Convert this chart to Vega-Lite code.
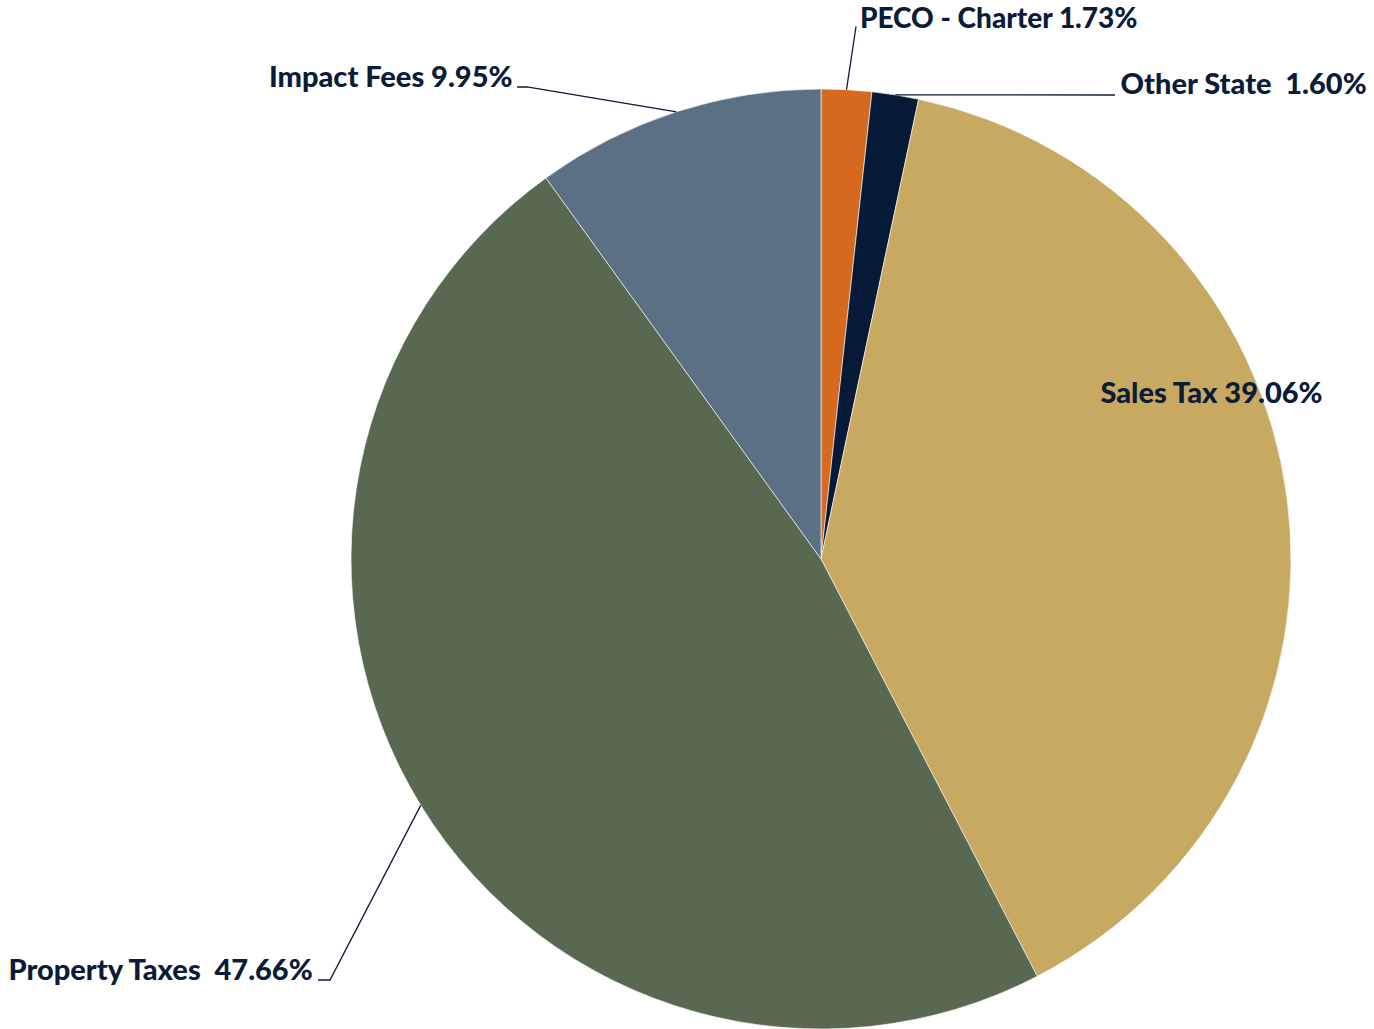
{
  "$schema": "https://vega.github.io/schema/vega-lite/v6.json",
  "width": 940,
  "height": 940,
  "autosize": {"type": "none"},
  "padding": {"left": 351, "top": 89, "right": 83, "bottom": 0},
  "background": "#ffffff",
  "config": {"view": {"stroke": null}},
  "datasets": {
    "slices": [
      {"idx": 1, "category": "PECO - Charter", "pct": 1.73, "label": "PECO - Charter 1.73%"},
      {"idx": 2, "category": "Other State", "pct": 1.60, "label": "Other State\u00a0 1.60%"},
      {"idx": 3, "category": "Sales Tax", "pct": 39.06, "label": "Sales Tax 39.06%"},
      {"idx": 4, "category": "Property Taxes", "pct": 47.66, "label": "Property Taxes\u00a0 47.66%"},
      {"idx": 5, "category": "Impact Fees", "pct": 9.95, "label": "Impact Fees 9.95%"}
    ],
    "leaders": [
      {"lead": "PECO - Charter", "seq": 1, "ux": 0.0543, "uy": 0.9985},
      {"lead": "PECO - Charter", "seq": 2, "ux": 0.0745, "uy": 1.1330},
      {"lead": "Other State", "seq": 1, "ux": 0.1583, "uy": 0.9874},
      {"lead": "Other State", "seq": 2, "ux": 0.6255, "uy": 0.9872},
      {"lead": "Impact Fees", "seq": 1, "ux": -0.3076, "uy": 0.9515},
      {"lead": "Impact Fees", "seq": 2, "ux": -0.6255, "uy": 1.0043},
      {"lead": "Impact Fees", "seq": 3, "ux": -0.6468, "uy": 1.0043},
      {"lead": "Property Taxes", "seq": 1, "ux": -0.8517, "uy": -0.5242},
      {"lead": "Property Taxes", "seq": 2, "ux": -1.0447, "uy": -0.8957},
      {"lead": "Property Taxes", "seq": 3, "ux": -1.0702, "uy": -0.8957}
    ]
  },
  "layer": [
    {
      "data": {"name": "slices"},
      "mark": {"type": "arc", "stroke": "#ffffff", "strokeWidth": 0.6},
      "encoding": {
        "theta": {"field": "pct", "type": "quantitative", "stack": true},
        "order": {"field": "idx", "type": "quantitative"},
        "color": {
          "field": "category",
          "type": "nominal",
          "legend": null,
          "scale": {
            "domain": ["PECO - Charter", "Other State", "Sales Tax", "Property Taxes", "Impact Fees"],
            "range": ["#D4691F", "#061A38", "#C8A961", "#596851", "#5B7183"]
          }
        }
      }
    },
    {
      "data": {"name": "leaders"},
      "mark": {"type": "line", "color": "#0B1B38", "strokeWidth": 1.3},
      "encoding": {
        "x": {"field": "ux", "type": "quantitative", "scale": {"domain": [-1, 1], "nice": false, "zero": false}, "axis": null},
        "y": {"field": "uy", "type": "quantitative", "scale": {"domain": [-1, 1], "nice": false, "zero": false}, "axis": null},
        "detail": {"field": "lead", "type": "nominal"},
        "order": {"field": "seq", "type": "quantitative"}
      }
    },
    {
      "data": {"name": "slices"},
      "mark": {"type": "text", "radius": 532, "align": "left", "baseline": "alphabetic", "dx": 10, "font": "Lato", "fontWeight": 900, "fontSize": 28, "color": "#0B1B38"},
      "encoding": {
        "theta": {"field": "pct", "type": "quantitative", "stack": true},
        "order": {"field": "idx", "type": "quantitative"},
        "detail": {"field": "category", "type": "nominal"},
        "text": {"condition": {"test": "datum.category === 'PECO - Charter'", "field": "label"}, "value": ""}
      }
    },
    {
      "data": {"name": "slices"},
      "mark": {"type": "text", "radius": 471, "align": "left", "baseline": "alphabetic", "dx": 225, "font": "Lato", "fontWeight": 900, "fontSize": 29, "color": "#0B1B38"},
      "encoding": {
        "theta": {"field": "pct", "type": "quantitative", "stack": true},
        "order": {"field": "idx", "type": "quantitative"},
        "detail": {"field": "category", "type": "nominal"},
        "text": {"condition": {"test": "datum.category === 'Other State'", "field": "label"}, "value": ""}
      }
    },
    {
      "data": {"name": "slices"},
      "mark": {"type": "text", "radius": 390, "align": "center", "baseline": "alphabetic", "dx": 4, "dy": -104, "font": "Lato", "fontWeight": 900, "fontSize": 29, "color": "#0B1B38"},
      "encoding": {
        "theta": {"field": "pct", "type": "quantitative", "stack": true},
        "order": {"field": "idx", "type": "quantitative"},
        "detail": {"field": "category", "type": "nominal"},
        "text": {"condition": {"test": "datum.category === 'Sales Tax'", "field": "label"}, "value": ""}
      }
    },
    {
      "data": {"name": "slices"},
      "mark": {"type": "text", "radius": 496, "align": "right", "baseline": "alphabetic", "dx": -156, "font": "Lato", "fontWeight": 900, "fontSize": 29, "color": "#0B1B38"},
      "encoding": {
        "theta": {"field": "pct", "type": "quantitative", "stack": true},
        "order": {"field": "idx", "type": "quantitative"},
        "detail": {"field": "category", "type": "nominal"},
        "text": {"condition": {"test": "datum.category === 'Impact Fees'", "field": "label"}, "value": ""}
      }
    },
    {
      "data": {"name": "slices"},
      "mark": {"type": "text", "radius": 800, "align": "right", "baseline": "alphabetic", "dx": 173, "dy": 1.6, "font": "Lato", "fontWeight": 900, "fontSize": 29, "color": "#0B1B38"},
      "encoding": {
        "theta": {"field": "pct", "type": "quantitative", "stack": true},
        "order": {"field": "idx", "type": "quantitative"},
        "detail": {"field": "category", "type": "nominal"},
        "text": {"condition": {"test": "datum.category === 'Property Taxes'", "field": "label"}, "value": ""}
      }
    }
  ]
}
